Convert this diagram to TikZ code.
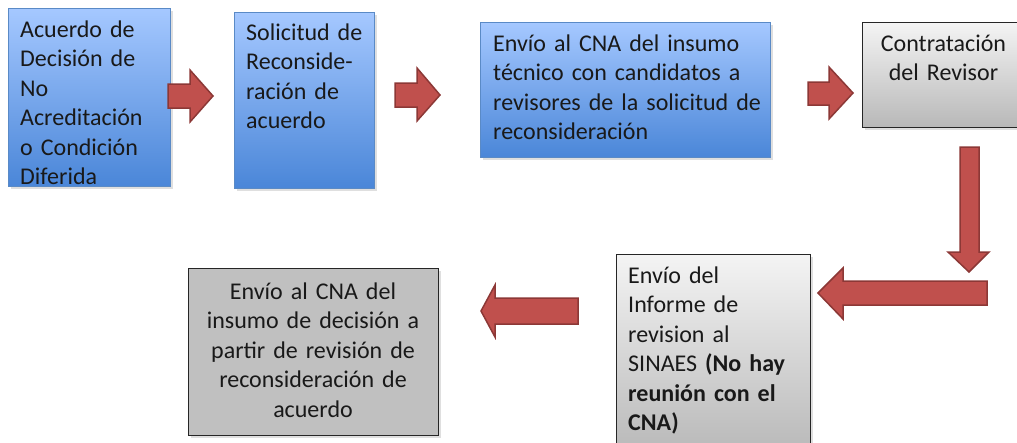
\documentclass[tikz,border=0pt]{standalone}
\usepackage{fontspec}
\setmainfont{Carlito}
\usetikzlibrary{shadows}
\definecolor{bluetop}{HTML}{A5C8FF}
\definecolor{bluebot}{HTML}{4A86D8}
\definecolor{blueline}{HTML}{5A8AC6}
\definecolor{graytop}{HTML}{F4F4F4}
\definecolor{graybot}{HTML}{B8B8B8}
\definecolor{grayflat}{HTML}{C0C0C0}
\definecolor{arrfill}{HTML}{C0504D}
\definecolor{arrline}{HTML}{8C3836}
\tikzset{
  boxshape/.style={draw, rectangle, inner sep=0pt, anchor=north west,
    drop shadow={shadow xshift=2pt, shadow yshift=-2pt, opacity=0.25}},
  bluebox/.style={boxshape, draw=blueline, line width=1pt, top color=bluetop, bottom color=bluebot},
  graybox/.style={boxshape, draw=black!85, line width=1.2pt, top color=graytop, bottom color=graybot},
  flatbox/.style={boxshape, draw=black!85, line width=1.2pt, fill=grayflat},
  txt/.style={inner sep=0pt, font=\fontsize{24}{29.5}\selectfont, text=black!90},
  blockarrow/.style={fill=arrfill, draw=arrline, line width=1.5pt, line join=miter}
}
\begin{document}
\begin{tikzpicture}[x=1pt, y=-1pt]
\useasboundingbox (0,0) rectangle (1017,442);
\clip (0,0) rectangle (1017,442);
% boxes
\node[bluebox, minimum width=162pt, minimum height=178pt] (A) at (8,8) {};
\node[bluebox, minimum width=140pt, minimum height=176pt] (B) at (234,12) {};
\node[bluebox, minimum width=290pt, minimum height=135pt] (C) at (480,22) {};
\node[graybox, minimum width=175pt, minimum height=105pt] (D) at (862,22) {};
\node[graybox, minimum width=194pt, minimum height=200pt] (E) at (616,254) {};
\node[flatbox, minimum width=250pt, minimum height=167pt] (F) at (188,268) {};
% texts
\node[txt, text width=160pt, align=left, anchor=base west] (tA) at (20,37)
  {Acuerdo de\\Decisión de\\No\\Acreditación\\o Condición\\Diferida};
\node[txt, text width=130pt, align=left, anchor=base west] (tB) at (246,40)
  {Solicitud de\\Reconside-\\ración de\\acuerdo};
\node[txt, text width=280pt, align=left, anchor=base west] (tC) at (493,51)
  {Envío al CNA del insumo\\técnico con candidatos a\\revisores de la solicitud de\\reconsideración};
\node[txt, text width=150pt, align=center, anchor=base] (tD) at (943.5,51)
  {Contratación\\del Revisor};
\node[txt, text width=180pt, align=left, anchor=base west] (tE) at (628,283)
  {Envío del\\Informe de\\revision al\\SINAES \textbf{(No hay}\\\textbf{reunión con el}\\\textbf{CNA)}};
\node[txt, text width=240pt, align=center, anchor=base] (tF) at (313,299)
  {Envío al CNA del\\insumo de decisión a\\partir de revisión de\\reconsideración de\\acuerdo};
% block arrows
\coordinate (a1) at (213,96);
\draw[blockarrow] (168,84) -- (190,84) -- (190,70) -- (a1) -- (190,122) -- (190,108) -- (168,108) -- cycle;
\coordinate (a2) at (440,95);
\draw[blockarrow] (395,83) -- (417,83) -- (417,68) -- (a2) -- (417,121) -- (417,107) -- (395,107) -- cycle;
\coordinate (a3) at (853,93);
\draw[blockarrow] (808,82) -- (829,82) -- (829,67) -- (a3) -- (829,119) -- (829,105) -- (808,105) -- cycle;
\coordinate (a4) at (969,272);
\draw[blockarrow] (960,147) -- (979,147) -- (979,252) -- (989,252) -- (a4) -- (948,252) -- (960,252) -- cycle;
\coordinate (a5) at (818,293);
\draw[blockarrow] (987,281) -- (843,281) -- (843,268) -- (a5) -- (843,319) -- (843,305) -- (987,305) -- cycle;
\coordinate (a6) at (481,311);
\draw[blockarrow] (578,298) -- (495,298) -- (495,285) -- (a6) -- (495,337) -- (495,324) -- (578,324) -- cycle;
\end{tikzpicture}
\end{document}
